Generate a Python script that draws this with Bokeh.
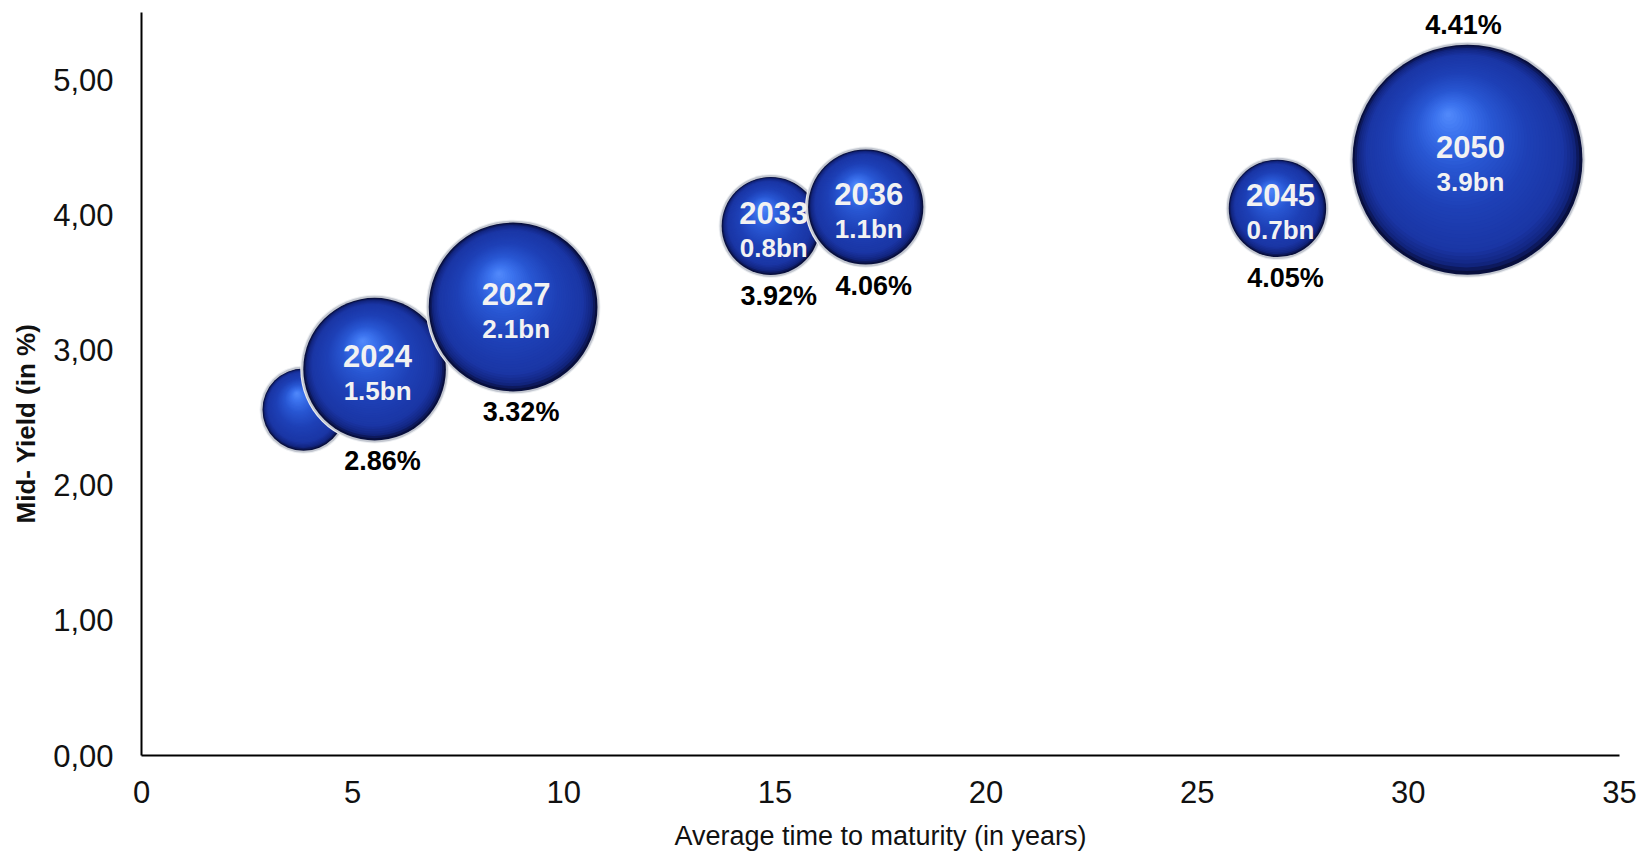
import numpy as np
from bokeh.plotting import figure
from bokeh.models import ColumnDataSource, FixedTicker, Range1d, Title
from bokeh.core.properties import value
from bokeh.embed import file_html
from bokeh.resources import INLINE

# ---------------- data ----------------
maturity_years = [3.84, 5.52, 8.80, 14.90, 17.15, 26.90, 31.40]
mid_yield = [2.56, 2.86, 3.32, 3.92, 4.06, 4.05, 4.41]
bubble_size = [0.50, 1.50, 2.10, 0.71, 0.98, 0.70, 3.90]
bond_year = ["", "2024", "2027", "2033", "2036", "2045", "2050"]
volume_label = ["", "1.5bn", "2.1bn", "0.8bn", "1.1bn", "0.7bn", "3.9bn"]
yield_label = ["", "2.86%", "3.32%", "3.92%", "4.06%", "4.05%", "4.41%"]
x_ticks = [0, 5, 10, 15, 20, 25, 30, 35]
y_ticks = [0, 1, 2, 3, 4, 5]
y_tick_labels = ["0,00", "1,00", "2,00", "3,00", "4,00", "5,00"]
x_title = "Average time to maturity (in years)"
y_title = "Mid- Yield (in %)"

# ---------------- layout ----------------
W, H = 1641, 853
B_LEFT, B_RIGHT, B_TOP, B_BOTTOM = 141, 22, 12, 98
X_MAX, Y_MAX = 35, 5.5
FW = W - B_LEFT - B_RIGHT
FH = H - B_TOP - B_BOTTOM
PX_X = FW / X_MAX
PX_Y = FH / Y_MAX
MAX_R = 115.0
FONT = "Liberation Sans"

radius_px = [MAX_R * np.sqrt(s / max(bubble_size)) for s in bubble_size]

# ---------------- sphere shading (layers of circles) ----------------
stops = [(0.00, (8, 15, 62)), (0.05, (18, 38, 130)), (0.14, (26, 54, 165)),
         (0.40, (30, 64, 182)), (0.65, (40, 86, 210)), (0.85, (60, 115, 238)),
         (1.00, (84, 140, 252))]


def grad(t):
    for (t0, c0), (t1, c1) in zip(stops[:-1], stops[1:]):
        if t <= t1:
            f = (t - t0) / (t1 - t0)
            c = [int(round(a + (b - a) * f)) for a, b in zip(c0, c1)]
            return "#%02x%02x%02x" % tuple(c)
    return "#%02x%02x%02x" % stops[-1][1]


N_LAYERS = 44
HL_DX, HL_DY = -0.17, 0.40   # highlight offset as fraction of radius (up-left)
lx, ly, ls, lc = [], [], [], []
for xv, yv, r in zip(maturity_years, mid_yield, radius_px):
    for extra, col in ((6, "#eef0f3"), (4, "#c3c7d0")):
        lx.append(xv); ly.append(yv); ls.append(2 * r + extra); lc.append(col)
    for k in range(N_LAYERS):
        t = k / N_LAYERS
        lx.append(xv + HL_DX * r * t / PX_X)
        ly.append(yv + HL_DY * r * t / PX_Y)
        ls.append(2 * r * (1 - t))
        lc.append(grad(t))
layers = ColumnDataSource(dict(x=lx, y=ly, size=ls, color=lc))

p = figure(width=W, height=H, output_backend="svg", toolbar_location=None,
           x_range=Range1d(0, X_MAX), y_range=Range1d(0, Y_MAX),
           min_border_left=B_LEFT, min_border_right=B_RIGHT,
           min_border_top=B_TOP, min_border_bottom=B_BOTTOM,
           background_fill_color="white", border_fill_color="white")
p.outline_line_color = None
p.grid.visible = False

p.scatter("x", "y", size="size", fill_color="color", line_color=None,
          marker="circle", source=layers)

# ---------------- labels ----------------
last = len(radius_px) - 1
lab = ColumnDataSource(dict(
    x=maturity_years, y=mid_yield, year=bond_year, vol=volume_label,
    yl=yield_label,
    yl_dy=[(-(r + 20) if i == last else r + 21) for i, r in enumerate(radius_px)],
    yl_dx=[(-4 if i == last else 8) for i in range(len(radius_px))],
))
p.text("x", "y", text="year", source=lab, text_font=value(FONT),
       text_font_style="bold", text_font_size="31px", text_color="#f2f2f2",
       text_align="center", text_baseline="middle", x_offset=3, y_offset=-13)
p.text("x", "y", text="vol", source=lab, text_font=value(FONT),
       text_font_style="bold", text_font_size="26px", text_color="#f2f2f2",
       text_align="center", text_baseline="middle", x_offset=3, y_offset=22)
p.text("x", "y", text="yl", source=lab, text_font=value(FONT),
       text_font_style="bold", text_font_size="27px", text_color="#000000",
       text_align="center", text_baseline="middle", x_offset="yl_dx", y_offset="yl_dy")

# ---------------- axes ----------------
for ax in (p.xaxis[0], p.yaxis[0]):
    ax.axis_line_color = "black"
    ax.axis_line_width = 2
    ax.major_tick_line_color = None
    ax.minor_tick_line_color = None
    ax.major_tick_out = 0
    ax.major_tick_in = 0
    ax.major_label_text_font = FONT
    ax.major_label_text_font_size = "31px"
    ax.major_label_text_color = "#111111"

p.xaxis.ticker = FixedTicker(ticks=x_ticks)
p.xaxis.major_label_standoff = 25
p.xaxis.axis_label = x_title
p.xaxis.axis_label_text_font = FONT
p.xaxis.axis_label_text_font_style = "normal"
p.xaxis.axis_label_text_font_size = "27px"
p.xaxis.axis_label_text_color = "#111111"
p.xaxis.axis_label_standoff = 15

p.yaxis.ticker = FixedTicker(ticks=y_ticks)
p.yaxis.major_label_overrides = {t: s for t, s in zip(y_ticks, y_tick_labels)}
p.yaxis.major_label_standoff = 28

p.add_layout(Title(text=y_title, align="left", offset=232, vertical_align="top",
                   standoff=16, text_font=FONT, text_font_style="bold",
                   text_font_size="26px", text_color="#111111"), "left")

open("out.html", "w").write(file_html(p, INLINE))
